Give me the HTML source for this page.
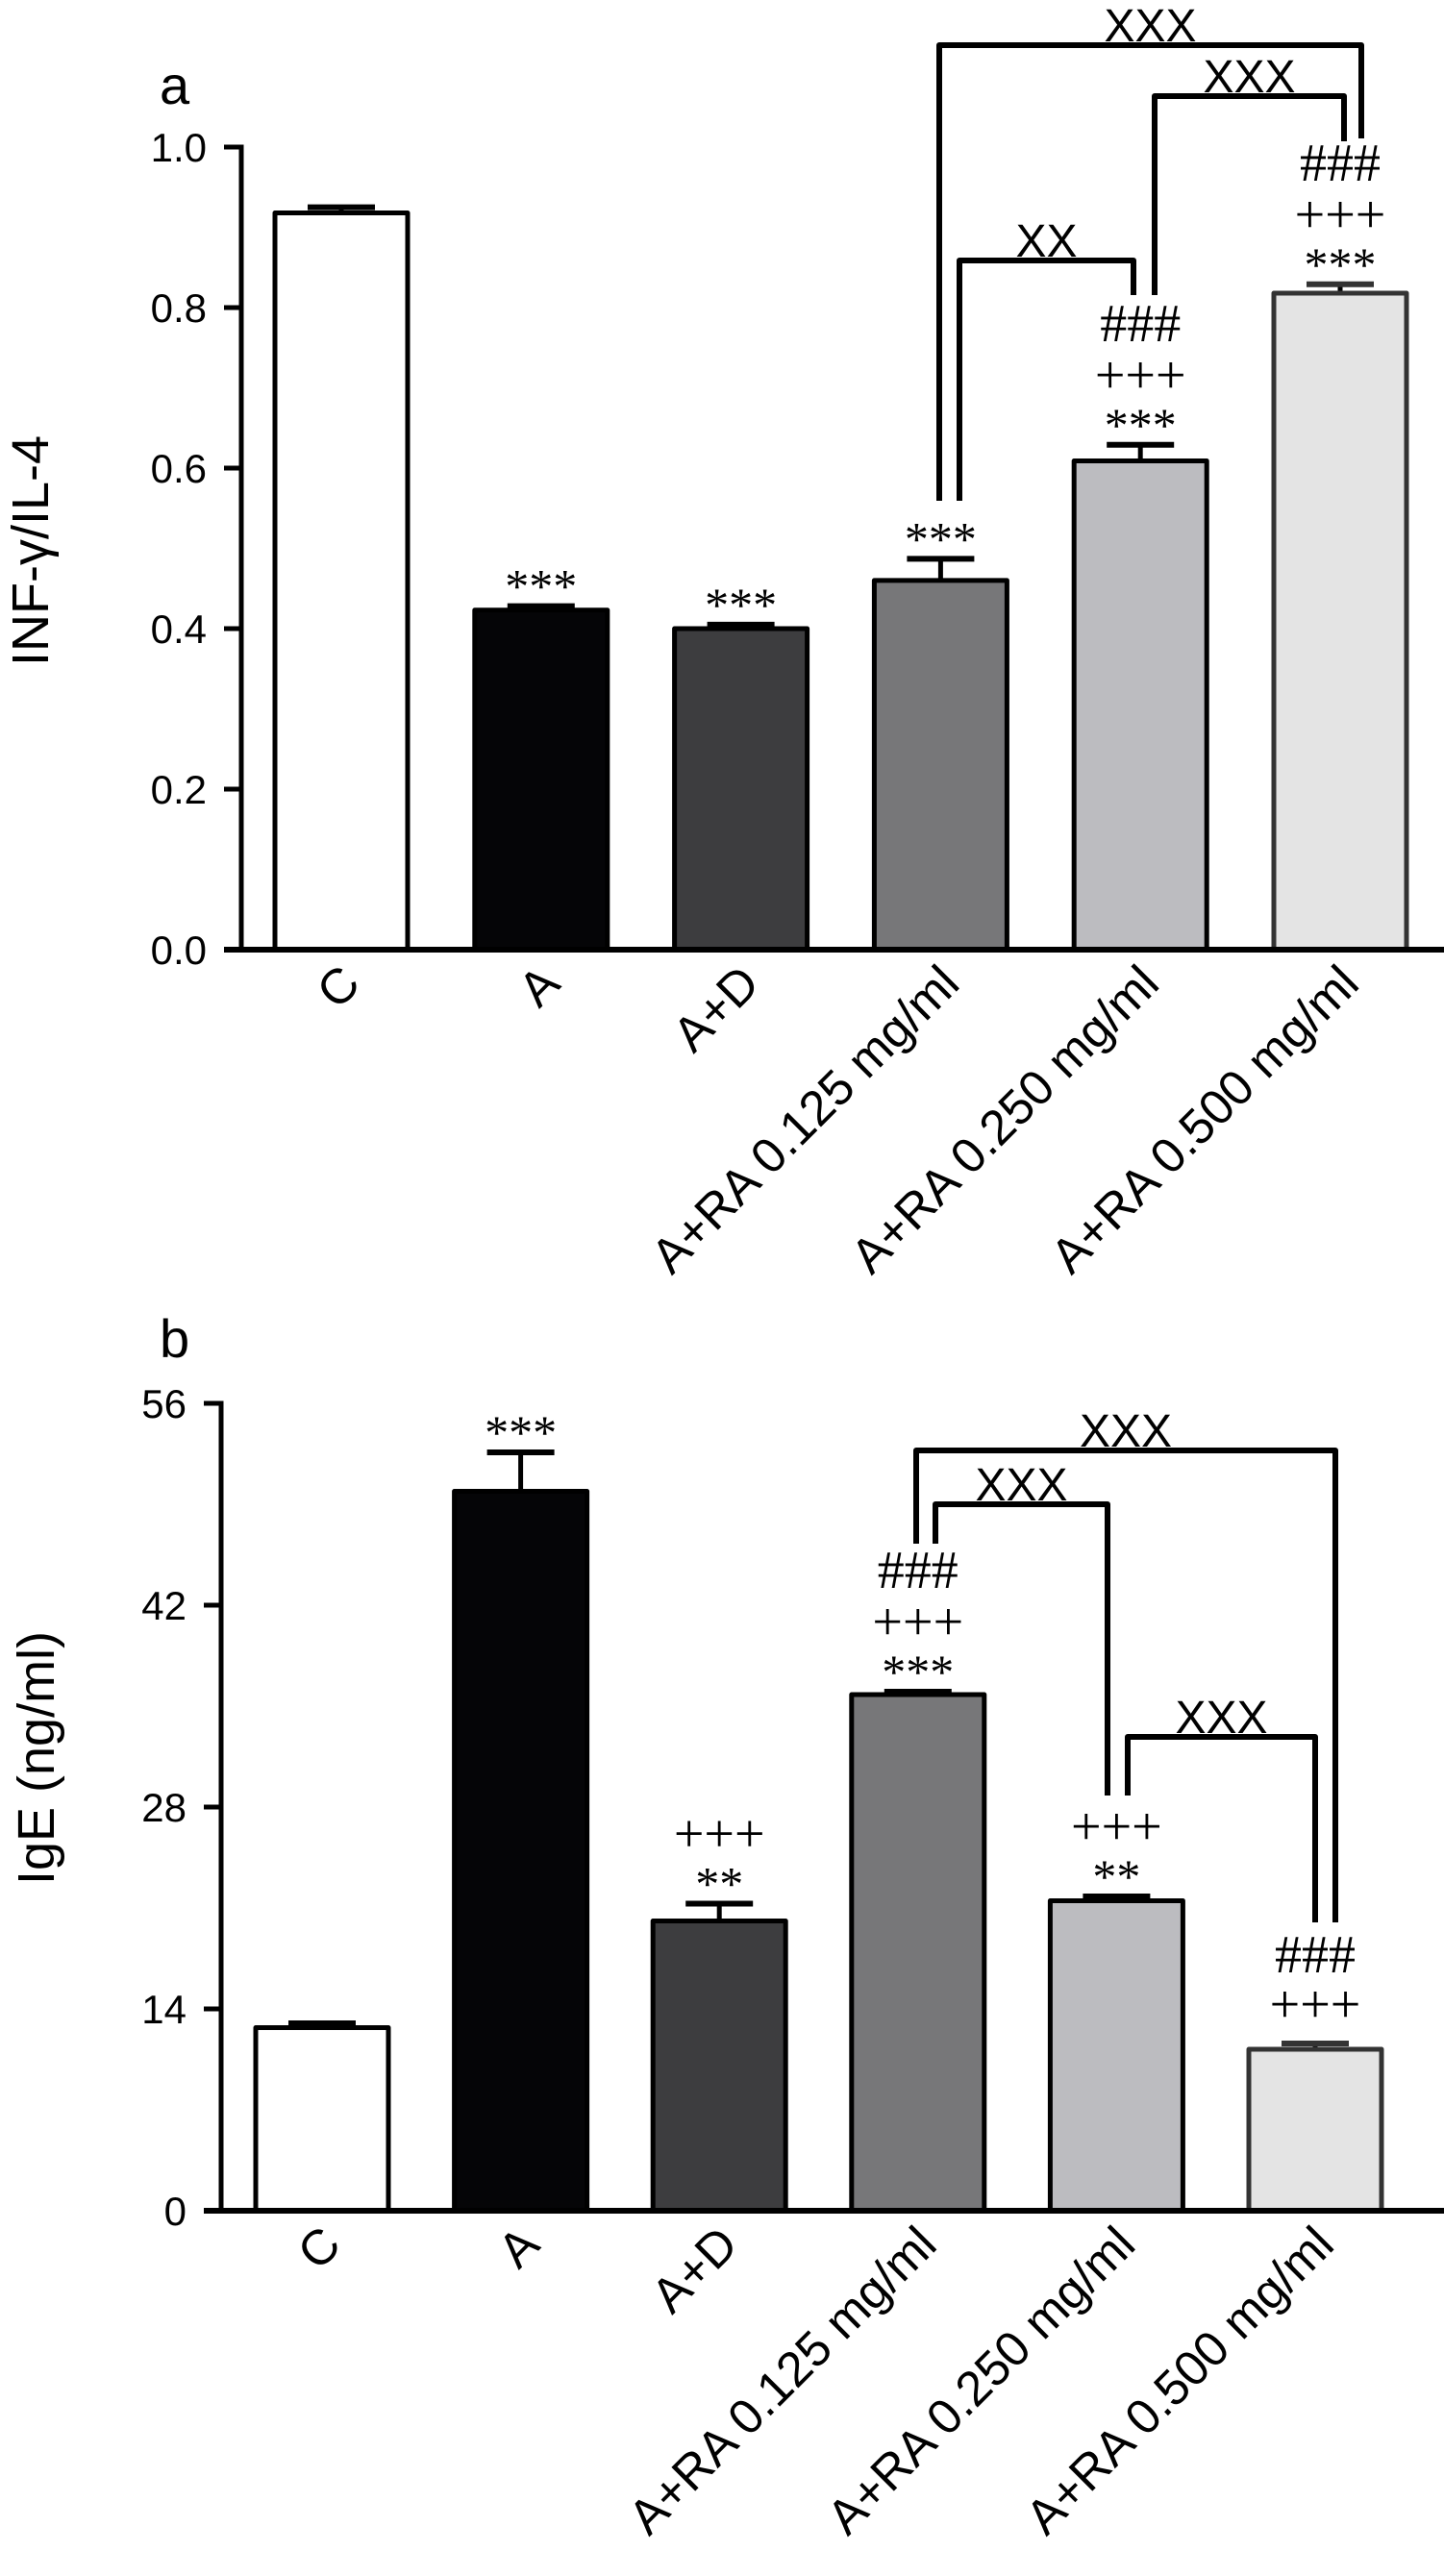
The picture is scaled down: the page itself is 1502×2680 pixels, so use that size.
<!DOCTYPE html>
<html><head><meta charset="utf-8"><style>
html,body{margin:0;padding:0;background:#fff}
svg{display:block}
</style></head><body>
<svg id="chart" width="1502" height="2680" viewBox="0 0 1502 2680" xmlns="http://www.w3.org/2000/svg"></svg>
<script>
const categories = ["C","A","A+D","A+RA 0.125 mg/ml","A+RA 0.250 mg/ml","A+RA 0.500 mg/ml"];
const valuesA = [0.918, 0.423, 0.400, 0.460, 0.609, 0.818];
const errorsA = [0.007, 0.005, 0.005, 0.027, 0.020, 0.011];
const annotA = [[], ["***"], ["***"], ["***"], ["***","+++","###"], ["***","+++","###"]];
const ticksA = [0, 0.2, 0.4, 0.6, 0.8, 1.0];
const tickLabelsA = ["0.0","0.2","0.4","0.6","0.8","1.0"];
const valuesB = [12.7, 49.9, 20.1, 35.8, 21.5, 11.2];
const errorsB = [0.3, 2.7, 1.2, 0.2, 0.3, 0.4];
const annotB = [[], ["***"], ["**","+++"], ["***","+++","###"], ["**","+++"], ["+++","###"]];
const ticksB = [0, 14, 28, 42, 56];
const tickLabelsB = ["0","14","28","42","56"];
const fills = ["#ffffff","#050507","#3d3d3f","#777779","#bcbcc0","#e4e4e4"];
const strokes = ["#000","#000","#000","#000","#000","#333"];

const svg = document.getElementById('chart');
const NS = "http://www.w3.org/2000/svg";
function mk(tag, attrs, parent){
  const e = document.createElementNS(NS, tag);
  for (const k in attrs) e.setAttribute(k, attrs[k]);
  (parent||svg).appendChild(e);
  return e;
}

function panel(cfg){
  const g = mk('g', {});
  
  
  const y = v => cfg.y0 - (v - cfg.min) / (cfg.max - cfg.min) * (cfg.y0 - cfg.y1);
  const x = i => cfg.xStart + i * cfg.step;
  const lt = mk('text', {x: cfg.letterX, y: cfg.letterY, 'font-family': 'Liberation Sans, sans-serif', 'font-size': 56}, g);
  lt.textContent = cfg.letter;
  
  
  const yt = mk('text', {x: 0, y: 0, 'font-family': 'Liberation Sans, sans-serif', 'font-size': 54, 'text-anchor': 'middle',
    transform: `translate(${cfg.titleX},${cfg.titleY}) rotate(-90)`}, g);
  yt.textContent = cfg.title;
  
  
  cfg.values.forEach((v, i) => {
    const cx = x(i), w = 138;
    const top = y(v), et = y(v + cfg.errors[i]);
    const eb = mk('line', {x1: cx, x2: cx, y1: top, y2: et, stroke: '#000', 'stroke-width': 5}, g);
    
    
    const ec = mk('line', {x1: cx - 35, x2: cx + 35, y1: et, y2: et, stroke: strokes[i] === '#333' ? '#333' : '#000', 'stroke-width': 6}, g);
    
    
    const r = mk('rect', {x: cx - w/2, y: top, width: w, height: cfg.y0 - top, fill: fills[i], stroke: strokes[i], 'stroke-width': 5, 'stroke-linejoin': 'round'}, g);
    
    
    const lines = cfg.annot[i];
    const hasStar = lines.length && lines[0].indexOf('*') === 0;
    lines.forEach((s, k) => {
      const off = hasStar ? (k === 0 ? -4 : k === 1 ? -54 : -108) : (k === 0 ? -22 : -74);
      const t = mk('text', {x: cx, y: et + off, 'font-family': 'Liberation Serif, serif', 'font-size': s.indexOf('*') === 0 ? 50 : 56, 'text-anchor': 'middle'}, g);
      t.textContent = s;
      
      
    });
    const lb = mk('text', {x: 0, y: 0, 'font-family': 'Liberation Sans, sans-serif', 'font-size': 51, 'text-anchor': 'end',
      transform: `translate(${cx + 22},${cfg.y0 + 38}) rotate(-45)`}, g);
    lb.textContent = categories[i];
    
    
  });
  const ya = mk('line', {x1: cfg.axisX, x2: cfg.axisX, y1: cfg.y1 - 2.5, y2: cfg.y0, stroke: '#000', 'stroke-width': 5}, g);
  
  
  const xa = mk('line', {x1: cfg.axisX - 18, x2: 1502, y1: cfg.y0, y2: cfg.y0, stroke: '#000', 'stroke-width': 6}, g);
  
  
  cfg.ticks.forEach((tv, k) => {
    const ty = y(tv);
    const tl = mk('line', {x1: cfg.axisX - 18, x2: cfg.axisX, y1: ty, y2: ty, stroke: '#000', 'stroke-width': 5}, g);
    
    
    const tt = mk('text', {x: cfg.axisX - 36, y: ty + 15, 'font-family': 'Liberation Sans, sans-serif', 'font-size': 42, 'text-anchor': 'end'}, g);
    tt.textContent = cfg.tickLabels[k];
    
    
  });
  cfg.brackets.forEach((b, k) => {
    const p = mk('polyline', {points: `${b[0]},${b[1]} ${b[0]},${b[2]} ${b[3]},${b[2]} ${b[3]},${b[4]}`, fill: 'none', stroke: '#000', 'stroke-width': 6, 'stroke-linejoin': 'round'}, g);
    
    
    const t = mk('text', {x: (b[0] + b[3]) / 2, y: b[2] - 4, 'font-family': 'Liberation Sans, sans-serif', 'font-size': 48, 'text-anchor': 'middle'}, g);
    t.textContent = b[5];
    
    
  });
}

panel({name: 'panel-a-chart', letter: 'a', letterX: 166, letterY: 108, title: 'INF-\u03b3/IL-4', titleX: 50, titleY: 573,
  values: valuesA, errors: errorsA, annot: annotA, ticks: ticksA, tickLabels: tickLabelsA,
  min: 0, max: 1, y0: 988, y1: 153, axisX: 251, xStart: 355, step: 207.8,
  brackets: [[977,521,47,1416,144,'XXX'],[1201,307,100,1398,147,'XXX'],[998,521,271,1179,307,'XX']]});
panel({name: 'panel-b-chart', letter: 'b', letterX: 166, letterY: 1412, title: 'IgE (ng/ml)', titleX: 56, titleY: 1829,
  values: valuesB, errors: errorsB, annot: annotB, ticks: ticksB, tickLabels: tickLabelsB,
  min: 0, max: 56, y0: 2300, y1: 1460, axisX: 230, xStart: 335, step: 206.6,
  brackets: [[953,1606,1509,1389,2000,'XXX'],[973,1606,1565,1152,1868,'XXX'],[1173,1868,1807,1368,2000,'XXX']]});
</script>
</body></html>
